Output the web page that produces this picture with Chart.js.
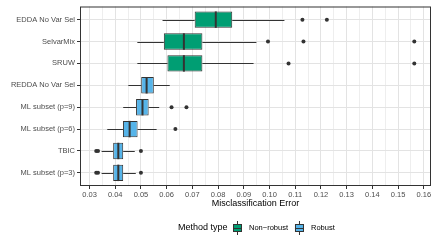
<!DOCTYPE html>
<html>
<head>
<meta charset="utf-8">
<script src="https://cdn.jsdelivr.net/npm/chart.js@4.4.1/dist/chart.umd.min.js"></script>
<style>
  body { margin: 0; background: #fff; }
</style>
</head>
<body>
<canvas id="grafica" width="435" height="244"></canvas>
<script>
// valores
const metodos = ['EDDA No Var Sel', 'SelvarMix', 'SRUW', 'REDDA No Var Sel',
    'ML subset (p=9)', 'ML subset (p=6)', 'TBIC', 'ML subset (p=3)'];
const tipos = ['Non−robust', 'Robust'];
const tipoMetodo = [0, 0, 0, 1, 1, 1, 1, 1];
const bigoteBajo = [0.0584, 0.0486, 0.0486, 0.0451, 0.0431, 0.0369, 0.0347, 0.0347];
const cuartil1 = [0.0709, 0.0589, 0.0603, 0.0501, 0.0481, 0.0430, 0.0392, 0.0392];
const mediana = [0.0791, 0.0667, 0.0667, 0.0522, 0.0506, 0.0456, 0.0412, 0.0412];
const cuartil3 = [0.0855, 0.0739, 0.0739, 0.0550, 0.0530, 0.0487, 0.0431, 0.0431];
const bigoteAlto = [0.1058, 0.0949, 0.0938, 0.0612, 0.0571, 0.0561, 0.0476, 0.0480];
const atipicos = [
    [0.1128, 0.1223],
    [0.0994, 0.1132, 0.1563],
    [0.1074, 0.1563],
    [],
    [0.0619, 0.0677],
    [0.0634],
    [0.0326, 0.0333, 0.0500],
    [0.0326, 0.0333, 0.0500]
];
const ticksX = [0.03, 0.04, 0.05, 0.06, 0.07, 0.08, 0.09, 0.10, 0.11, 0.12, 0.13, 0.14, 0.15, 0.16];

const colores = ['#009E73', '#56B4E9'];
const gris = '#333333';
const fuente = "'Liberation Sans', Arial, sans-serif";

// lineas de cuadricula: mayores en los ticks, menores a la mitad
const lineasX = [];
ticksX.forEach((v, i) => {
    lineasX.push({ value: v, major: true });
    if (i < ticksX.length - 1) lineasX.push({ value: (v + ticksX[i + 1]) / 2, major: false });
});

function cajas(tipo) {
    const datos = [];
    metodos.forEach((m, i) => {
        if (tipoMetodo[i] === tipo) datos.push({ x: [cuartil1[i], cuartil3[i]], y: i });
    });
    return datos;
}

const puntosAtipicos = [];
atipicos.forEach((lista, i) => lista.forEach(v => puntosAtipicos.push({ x: v, y: i })));

// bigotes, medianas, borde del panel y leyenda
const pluginCaja = {
    id: 'cajaBigotes',
    beforeDatasetsDraw(chart) {
        const ctx = chart.ctx;
        const sx = chart.scales.x, sy = chart.scales.y;
        ctx.save();
        ctx.strokeStyle = gris;
        ctx.lineWidth = 1;
        metodos.forEach((m, i) => {
            const y = Math.round(sy.getPixelForValue(i)) + 0.5;
            ctx.beginPath();
            ctx.moveTo(sx.getPixelForValue(bigoteBajo[i]), y);
            ctx.lineTo(sx.getPixelForValue(cuartil1[i]), y);
            ctx.moveTo(sx.getPixelForValue(cuartil3[i]), y);
            ctx.lineTo(sx.getPixelForValue(bigoteAlto[i]), y);
            ctx.stroke();
        });
        ctx.restore();
    },
    afterDatasetsDraw(chart) {
        const ctx = chart.ctx;
        const sx = chart.scales.x, sy = chart.scales.y;
        ctx.save();
        ctx.strokeStyle = gris;
        ctx.lineWidth = 2;
        [0, 1].forEach(d => {
            const meta = chart.getDatasetMeta(d);
            meta.data.forEach((el, j) => {
                const i = meta._parsed[j].y;
                const x = sx.getPixelForValue(mediana[i]);
                const y = sy.getPixelForValue(i);
                ctx.beginPath();
                ctx.moveTo(x, y - el.height / 2);
                ctx.lineTo(x, y + el.height / 2);
                ctx.stroke();
            });
        });
        const a = chart.chartArea;
        ctx.lineWidth = 1;
        ctx.strokeRect(a.left + 0.5, a.top + 0.5, a.right - a.left - 1, a.bottom - a.top - 1);
        ctx.restore();
    },
    afterDraw(chart) {
        const ctx = chart.ctx;
        const yl = 228;
        ctx.save();
        ctx.textBaseline = 'middle';
        ctx.fillStyle = '#000';
        ctx.font = '9px ' + fuente;
        ctx.fillText('Method type', 178, yl);
        let x = 233;
        tipos.forEach((t, k) => {
            // caja pequeña de la leyenda
            ctx.strokeStyle = gris;
            ctx.lineWidth = 1;
            ctx.beginPath();
            ctx.moveTo(x + 4.5, yl - 7);
            ctx.lineTo(x + 4.5, yl + 7);
            ctx.stroke();
            ctx.fillStyle = colores[k];
            ctx.fillRect(x, yl - 4, 9, 8);
            ctx.strokeRect(x + 0.5, yl - 3.5, 8, 7);
            ctx.beginPath();
            ctx.moveTo(x, yl + 0.5);
            ctx.lineTo(x + 9, yl + 0.5);
            ctx.stroke();
            ctx.fillStyle = '#000';
            ctx.font = '7.5px ' + fuente;
            ctx.fillText(t, x + 16, yl);
            x += 16 + ctx.measureText(t).width + 7;
        });
        ctx.restore();
    }
};

const esMayor = v => Math.abs(v * 100 - Math.round(v * 100)) < 1e-6;

new Chart(document.getElementById('grafica'), {
    type: 'bar',
    data: {
        datasets: [
            {
                label: tipos[0],
                data: cajas(0),
                backgroundColor: colores[0],
                borderColor: gris,
                borderWidth: 1,
                borderSkipped: false,
                grouped: false,
                barPercentage: 0.75,
                categoryPercentage: 1
            },
            {
                label: tipos[1],
                data: cajas(1),
                backgroundColor: colores[1],
                borderColor: gris,
                borderWidth: 1,
                borderSkipped: false,
                grouped: false,
                barPercentage: 0.75,
                categoryPercentage: 1
            },
            {
                type: 'scatter',
                label: 'atipicos',
                data: puntosAtipicos,
                pointRadius: 2,
                backgroundColor: gris,
                borderWidth: 0
            }
        ]
    },
    options: {
        responsive: false,
        animation: false,
        indexAxis: 'y',
        layout: { padding: { top: 4, right: 4, left: 0, bottom: 35 } },
        plugins: {
            legend: { display: false },
            tooltip: { enabled: false }
        },
        scales: {
            x: {
                type: 'linear',
                min: 0.0263,
                max: 0.1628,
                offset: false,
                afterBuildTicks: s => { s.ticks = lineasX.map(t => ({ value: t.value })); },
                afterFit: s => { s.height = 23; },
                ticks: {
                    autoSkip: false,
                    maxRotation: 0,
                    padding: 1,
                    color: '#4D4D4D',
                    font: { family: fuente, size: 7.5 },
                    callback: v => esMayor(v) ? v.toFixed(2) : ''
                },
                grid: {
                    offset: false,
                    lineWidth: 1,
                    tickLength: 3,
                    color: c => (c.tick && esMayor(c.tick.value)) ? '#E3E3E3' : '#EEEEEE',
                    tickColor: c => (c.tick && esMayor(c.tick.value)) ? gris : 'rgba(0,0,0,0)'
                },
                border: { display: false },
                title: {
                    display: true,
                    text: 'Misclassification Error',
                    color: '#000',
                    padding: 0,
                    font: { family: fuente, size: 9 }
                }
            },
            y: {
                type: 'linear',
                reverse: true,
                min: -0.6,
                max: 7.6,
                offset: false,
                afterBuildTicks: s => { s.ticks = metodos.map((m, i) => ({ value: i })); },
                afterFit: s => { s.width = 80; },
                ticks: {
                    autoSkip: false,
                    padding: 2,
                    color: '#4D4D4D',
                    font: { family: fuente, size: 7.5 },
                    callback: v => metodos[v]
                },
                grid: {
                    offset: false,
                    lineWidth: 1,
                    tickLength: 3,
                    color: '#E3E3E3',
                    tickColor: gris
                },
                border: { display: false }
            }
        }
    },
    plugins: [pluginCaja]
});
</script>
</body>
</html>
